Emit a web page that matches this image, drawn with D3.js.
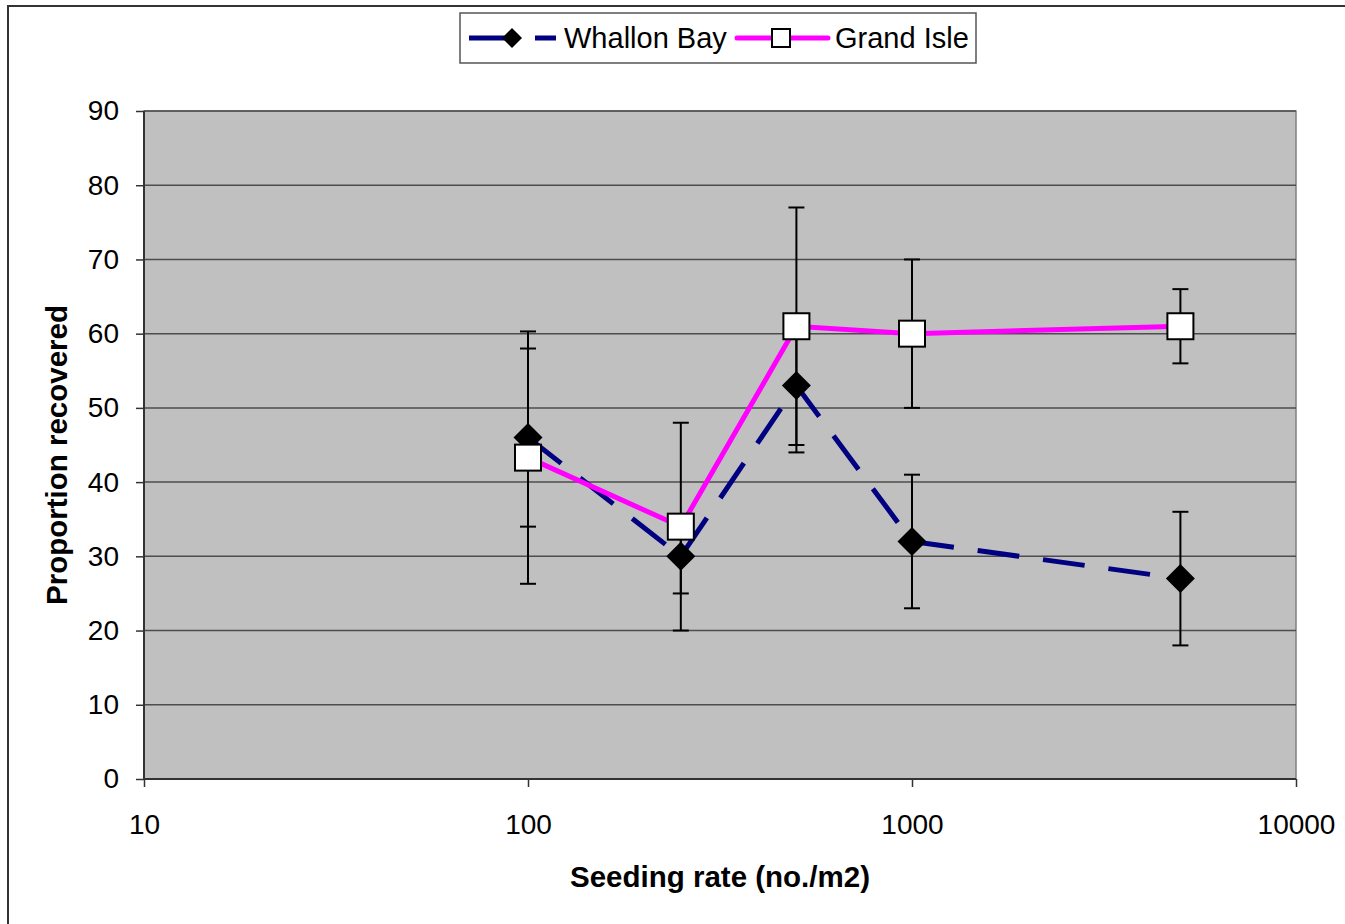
<!DOCTYPE html>
<html>
<head>
<meta charset="utf-8">
<script src="https://cdn.jsdelivr.net/npm/d3@7"></script>
<style>
  html, body { margin: 0; padding: 0; background: #fff; }
  svg { display: block; font-family: "Liberation Sans", Arial, sans-serif; }
</style>
</head>
<body>
<svg id="chart" width="1345" height="924"></svg>
<script>
// ---- data ----
const seedingRates = [100, 250, 500, 1000, 5000];
const whallonBay = [46, 30, 53, 32, 27];
const whallonErr = [12, 5, 9, 9, 9];
const grandIsle = [43.3, 34, 61, 60, 61];
const grandErr = [17, 14, 16, 10, 5];
const seriesNames = ["Whallon Bay", "Grand Isle"];
const xTicks = [10, 100, 1000, 10000];
const yTicks = [0, 10, 20, 30, 40, 50, 60, 70, 80, 90];

const svg = d3.select("#chart");
const W = 1345, H = 924;
const plot = { left: 144, right: 1296, top: 111, bottom: 779 };

// outer chart border
svg.append("rect").attr("x", 8).attr("y", 6).attr("width", W + 10).attr("height", H + 10)
  .attr("fill", "#fff").attr("stroke", "#333").attr("stroke-width", 2);

const x = d3.scaleLog().domain([10, 10000]).range([plot.left, plot.right]);
const y = d3.scaleLinear().domain([0, 90]).range([plot.bottom, plot.top]);

// plot area
svg.append("rect").attr("x", plot.left).attr("y", plot.top)
  .attr("width", plot.right - plot.left).attr("height", plot.bottom - plot.top)
  .attr("fill", "#c0c0c0").attr("stroke", "#808080").attr("stroke-width", 1.5);

// gridlines
svg.append("g").selectAll("line").data(yTicks).join("line")
  .attr("x1", plot.left).attr("x2", plot.right)
  .attr("y1", d => y(d)).attr("y2", d => y(d))
  .attr("stroke", "#4d4d4d").attr("stroke-width", 1.5);

// y axis
const yAxis = d3.axisLeft(y).tickValues(yTicks).tickSize(8).tickPadding(17).tickFormat(d3.format("d"));
const gy = svg.append("g").attr("transform", `translate(${plot.left},0)`).call(yAxis);
gy.select(".domain").attr("stroke", "#333").attr("stroke-width", 2).attr("d", `M0,${plot.top}V${plot.bottom}`);
gy.selectAll(".tick line").attr("stroke", "#333").attr("stroke-width", 1.5);
gy.selectAll(".tick text").attr("font-size", 28).attr("fill", "#000")
  .attr("font-family", "Liberation Sans, Arial, sans-serif");

// x axis
const xAxis = d3.axisBottom(x).tickValues(xTicks).tickSize(8).tickPadding(27).tickFormat(d3.format("d"));
const gx = svg.append("g").attr("transform", `translate(0,${plot.bottom})`).call(xAxis);
gx.select(".domain").attr("stroke", "#333").attr("stroke-width", 2).attr("d", `M${plot.left},0H${plot.right}`);
gx.selectAll(".tick line").attr("stroke", "#333").attr("stroke-width", 1.5);
gx.selectAll(".tick text").attr("font-size", 28).attr("fill", "#000")
  .attr("font-family", "Liberation Sans, Arial, sans-serif");

// axis titles
svg.append("text").attr("x", (plot.left + plot.right) / 2).attr("y", 887)
  .attr("text-anchor", "middle").attr("font-size", 29.5).attr("font-weight", "bold")
  .text("Seeding rate (no./m2)");
svg.append("text").attr("transform", `translate(67,455) rotate(-90)`)
  .attr("text-anchor", "middle").attr("font-size", 29.5).attr("font-weight", "bold")
  .text("Proportion recovered");

const wbData = seedingRates.map((r, i) => ({ r, v: whallonBay[i], e: whallonErr[i] }));
const giData = seedingRates.map((r, i) => ({ r, v: grandIsle[i], e: grandErr[i] }));

const line = d3.line().x(d => x(d.r)).y(d => y(d.v));

// error bars
function errorBars(data) {
  const g = svg.append("g").attr("stroke", "#000").attr("stroke-width", 2);
  data.forEach(d => {
    const cx = x(d.r);
    g.append("line").attr("x1", cx).attr("x2", cx).attr("y1", y(d.v - d.e)).attr("y2", y(d.v + d.e));
    [d.v - d.e, d.v + d.e].forEach(v => {
      g.append("line").attr("x1", cx - 8).attr("x2", cx + 8).attr("y1", y(v)).attr("y2", y(v));
    });
  });
}
errorBars(wbData);
errorBars(giData);

// Whallon Bay line
svg.append("path").datum(wbData).attr("d", line).attr("fill", "none")
  .attr("stroke", "#000080").attr("stroke-width", 5).attr("stroke-dasharray", "42,24");
// Grand Isle line
svg.append("path").datum(giData).attr("d", line).attr("fill", "none")
  .attr("stroke", "#ff00ff").attr("stroke-width", 5);

// markers
const diamond = (cx, cy, r) => `M${cx},${cy - r}L${cx + r},${cy}L${cx},${cy + r}L${cx - r},${cy}Z`;
svg.append("g").selectAll("path").data(wbData).join("path")
  .attr("d", d => diamond(x(d.r), y(d.v), 14.5)).attr("fill", "#000");
svg.append("g").selectAll("rect").data(giData).join("rect")
  .attr("x", d => x(d.r) - 13).attr("y", d => y(d.v) - 13)
  .attr("width", 26).attr("height", 26)
  .attr("fill", "#fff").attr("stroke", "#000").attr("stroke-width", 2);

// legend
const lg = svg.append("g");
lg.append("rect").attr("x", 460).attr("y", 13).attr("width", 516).attr("height", 50)
  .attr("fill", "#fff").attr("stroke", "#555").attr("stroke-width", 1.5);
const ly = 38;
lg.append("line").attr("x1", 469).attr("x2", 556).attr("y1", ly).attr("y2", ly)
  .attr("stroke", "#000080").attr("stroke-width", 5).attr("stroke-dasharray", "42,24");
lg.append("path").attr("d", diamond(512, ly, 10)).attr("fill", "#000");
lg.append("text").attr("x", 564).attr("y", ly + 10).attr("font-size", 29).text(seriesNames[0]);
lg.append("line").attr("x1", 737).attr("x2", 828).attr("y1", ly).attr("y2", ly)
  .attr("stroke", "#ff00ff").attr("stroke-width", 5).attr("stroke-linecap", "round");
lg.append("rect").attr("x", 772).attr("y", ly - 9).attr("width", 18).attr("height", 18)
  .attr("fill", "#fff").attr("stroke", "#000").attr("stroke-width", 2);
lg.append("text").attr("x", 835).attr("y", ly + 10).attr("font-size", 29).text(seriesNames[1]);
</script>
</body>
</html>
